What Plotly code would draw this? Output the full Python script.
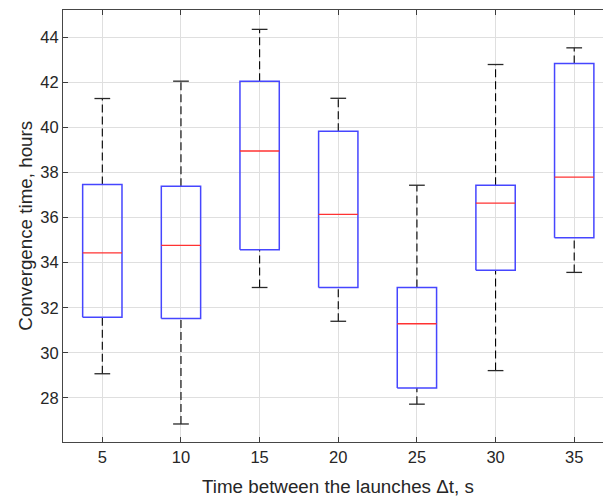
import plotly.graph_objects as go

# ---- data ----
categories = [5, 10, 15, 20, 25, 30, 35]
upper_whisker = [41.29, 42.06, 44.36, 41.30, 37.44, 42.80, 43.54]
q3 = [37.47, 37.39, 42.06, 39.84, 32.90, 37.44, 42.84]
median = [34.44, 34.77, 38.96, 36.15, 31.29, 36.65, 37.80]
q1 = [31.58, 31.52, 34.58, 32.90, 28.44, 33.66, 35.11]
lower_whisker = [29.07, 26.84, 32.90, 31.40, 27.72, 29.21, 33.57]
y_ticks = [28, 30, 32, 34, 36, 38, 40, 42, 44]

# ---- styles ----
BOX_HALF = 0.25
CAP_HALF = 0.1
FONT = "Liberation Sans, Arial, sans-serif"
TXT = "rgb(38,38,38)"

pos = list(range(1, len(categories) + 1))

box_x, box_y = [], []
med_x, med_y = [], []
wh_x, wh_y = [], []
cap_x, cap_y = [], []
for p, lo, a, m, b, hi in zip(pos, lower_whisker, q1, median, q3, upper_whisker):
    box_x += [p - BOX_HALF, p + BOX_HALF, p + BOX_HALF, p - BOX_HALF, p - BOX_HALF, None]
    box_y += [a, a, b, b, a, None]
    med_x += [p - BOX_HALF, p + BOX_HALF, None]
    med_y += [m, m, None]
    wh_x += [p, p, None, p, p, None]
    wh_y += [b, hi, None, lo, a, None]
    cap_x += [p - CAP_HALF, p + CAP_HALF, None, p - CAP_HALF, p + CAP_HALF, None]
    cap_y += [hi, hi, None, lo, lo, None]

fig = go.Figure()
fig.add_trace(go.Scatter(x=wh_x, y=wh_y, mode="lines",
                         line=dict(color="black", width=1.1, dash="8px,4px"),
                         hoverinfo="skip", showlegend=False))
fig.add_trace(go.Scatter(x=cap_x, y=cap_y, mode="lines",
                         line=dict(color="rgb(40,40,40)", width=1.3),
                         hoverinfo="skip", showlegend=False))
fig.add_trace(go.Scatter(x=box_x, y=box_y, mode="lines",
                         line=dict(color="rgb(70,70,255)", width=1.5),
                         hoverinfo="skip", showlegend=False))
fig.add_trace(go.Scatter(x=med_x, y=med_y, mode="lines",
                         line=dict(color="rgb(255,50,50)", width=1.3),
                         hoverinfo="skip", showlegend=False))

fig.update_layout(
    width=603, height=498,
    margin=dict(l=63, r=0, t=10, b=56),
    paper_bgcolor="white", plot_bgcolor="white",
    font=dict(family=FONT, size=16.5, color=TXT),
    showlegend=False,
    xaxis=dict(
        range=[0.5, 7.366],
        tickmode="array", tickvals=pos, ticktext=[str(c) for c in categories],
        ticks="inside", ticklen=5, tickcolor="rgb(60,60,60)",
        showline=True, linecolor="rgb(70,70,70)", linewidth=1.2, mirror="ticks",
        showgrid=True, gridcolor="rgb(223,223,223)", gridwidth=1,
        zeroline=False, tickfont=dict(size=16.5, color=TXT),
    ),
    yaxis=dict(
        range=[26.04, 45.22],
        tickmode="array", tickvals=y_ticks, ticktext=[str(v) for v in y_ticks],
        ticks="inside", ticklen=5, tickcolor="rgb(60,60,60)",
        showline=True, linecolor="rgb(70,70,70)", linewidth=1.2, mirror=False,
        showgrid=True, gridcolor="rgb(223,223,223)", gridwidth=1,
        zeroline=False, tickfont=dict(size=16.5, color=TXT),
    ),
    annotations=[
        dict(text="Time between the launches \u0394t, s", xref="x", yref="paper",
             x=4.0, y=-0.104, xanchor="center", yanchor="middle", showarrow=False,
             font=dict(size=18.8, color=TXT, family=FONT)),
        dict(text="Convergence time, hours", xref="paper", yref="paper",
             x=-0.071, y=0.5, xanchor="center", yanchor="middle", textangle=-90,
             showarrow=False, font=dict(size=18.8, color=TXT, family=FONT)),
    ],
)

fig.write_html("out.html")
